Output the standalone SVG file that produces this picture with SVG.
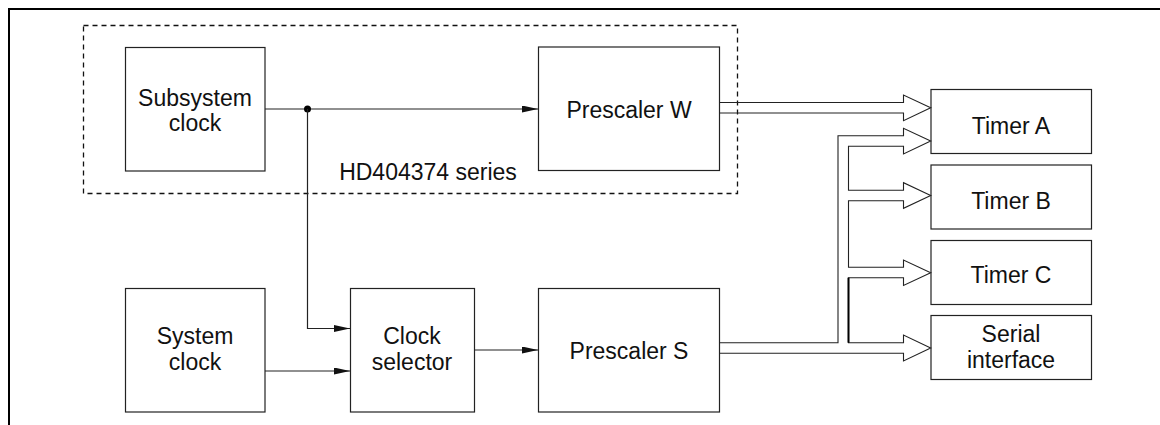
<svg xmlns="http://www.w3.org/2000/svg" width="1160" height="425" viewBox="0 0 1160 425">
<defs>
<style>
.box{fill:#fff;stroke:#222;stroke-width:1.2}
.t{font-family:"Liberation Sans",Arial,Helvetica,sans-serif;font-size:23px;fill:#111;text-anchor:middle}
.ln{fill:none;stroke:#222;stroke-width:1.2}
.bus{fill:none;stroke:#222;stroke-width:1.1;stroke-linejoin:miter}
.dash{fill:none;stroke:#111;stroke-width:1.3;stroke-dasharray:5,4}
.frame{fill:none;stroke:#000;stroke-width:2}
</style>
<marker id="ah" markerWidth="16" markerHeight="8" refX="16" refY="3.5" orient="auto" markerUnits="userSpaceOnUse">
<path d="M0,0 L16,3.5 L0,7 Z" fill="#111"/>
</marker>
</defs>
<rect width="1160" height="425" fill="#fff"/>
<path class="frame" d="M9,425 V9 H1160"/>
<g id="hd404374-series">
<rect class="dash" x="83.5" y="25.5" width="654" height="168"/>
<text class="t" x="428" y="180">HD404374 series</text>
</g>
<g id="subsystem-clock">
<rect class="box" x="125.5" y="47.5" width="139.5" height="123.5"/>
<text class="t" x="195" y="105.5">Subsystem</text>
<text class="t" x="195" y="130.5">clock</text>
</g>
<g id="prescaler-w">
<rect class="box" x="538.5" y="47" width="181" height="123.5"/>
<text class="t" x="629" y="117.5">Prescaler W</text>
</g>
<g id="system-clock">
<rect class="box" x="125.5" y="288.5" width="139.5" height="123.5"/>
<text class="t" x="195" y="344">System</text>
<text class="t" x="195" y="370">clock</text>
</g>
<g id="clock-selector">
<rect class="box" x="350.5" y="288.5" width="124" height="123.5"/>
<text class="t" x="412" y="344">Clock</text>
<text class="t" x="412" y="370">selector</text>
</g>
<g id="prescaler-s">
<rect class="box" x="538.5" y="288.5" width="181" height="123.5"/>
<text class="t" x="629" y="358.5">Prescaler S</text>
</g>
<g id="timer-a">
<rect class="box" x="931" y="89.5" width="160.5" height="64"/>
<text class="t" x="1011" y="134">Timer A</text>
</g>
<g id="timer-b">
<rect class="box" x="931" y="165" width="160.5" height="64"/>
<text class="t" x="1011" y="209">Timer B</text>
</g>
<g id="timer-c">
<rect class="box" x="931" y="240.5" width="160.5" height="64"/>
<text class="t" x="1011" y="282.5">Timer C</text>
</g>
<g id="serial-interface">
<rect class="box" x="931" y="315.5" width="160.5" height="64"/>
<text class="t" x="1011" y="342">Serial</text>
<text class="t" x="1011" y="367.5">interface</text>
</g>
<g id="connectors">
<path class="ln" d="M265,109 H538" marker-end="url(#ah)"/>
<circle cx="307.5" cy="109" r="3.5" fill="#000"/>
<path class="ln" d="M307.5,109 V328.5 H350" marker-end="url(#ah)"/>
<path class="ln" d="M265,371 H350" marker-end="url(#ah)"/>
<path class="ln" d="M474.5,350 H538" marker-end="url(#ah)"/>
<path class="bus" d="M719.5,102.5 H903.5 V95 L930.7,107.8 L903.5,120.7 V113 H719.5"/>
<path class="bus" d="M719.5,342.7 H838 V135.7 H903.5 V128.3 L930.7,141 L903.5,154 V146.3 H848.5 V190.3 H903.5 V182.7 L930.7,195.5 L903.5,208.3 V200.7 H848.5 V267.3 H903.5 V260 L930.7,272.7 L903.5,285.5 V277.7 H848.5 V342.7 H903.5 V335 L930.7,348 L903.5,361 V353.3 H719.5"/>
<path d="M848.5,277.7 V342.7" stroke="#000" stroke-width="2" fill="none"/>
</g>
</svg>
